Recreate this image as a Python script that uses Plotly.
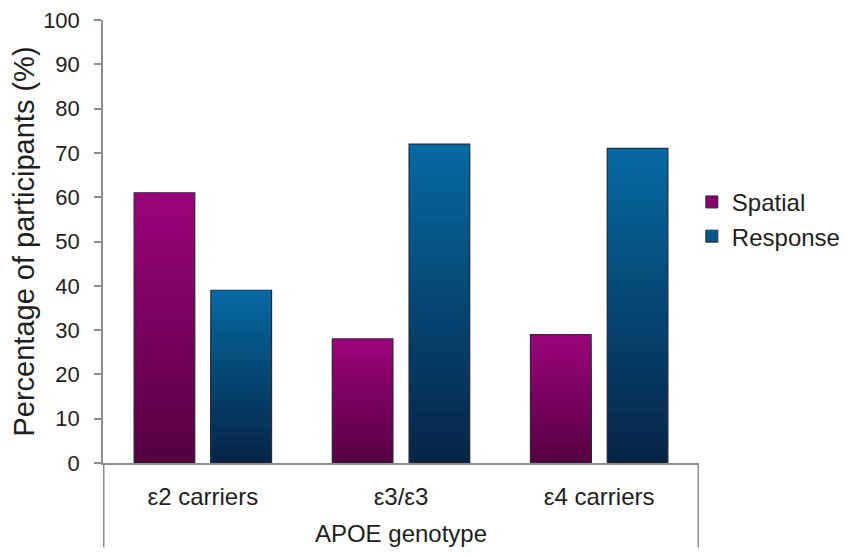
import plotly.graph_objects as go

genotypes = ["ε2 carriers", "ε3/ε3", "ε4 carriers"]
spatial = [61, 28, 29]
response = [39, 72, 71]

# top / bottom colours of the vertical gradient in each bar
series = [
    ("Spatial", spatial, (155, 4, 122), (86, 0, 66)),
    ("Response", response, (6, 106, 162), (6, 36, 70)),
]

N_STEPS = 50


def mix(top, bottom, t):
    # t = 0 bottom, t = 1 top
    return "rgb(%d,%d,%d)" % tuple(round(b + (a - b) * t) for a, b in zip(top, bottom))


fig = go.Figure()

for name, vals, top, bottom in series:
    # gradient: overlapping bars, tallest (lightest) first, shorter darker ones on top
    for k in range(N_STEPS):
        frac = (N_STEPS - k) / N_STEPS
        fig.add_trace(go.Bar(
            x=genotypes,
            y=[v * frac for v in vals],
            offsetgroup=name,
            marker=dict(color=mix(top, bottom, frac - 0.5 / N_STEPS), line=dict(width=0)),
            showlegend=False,
            hoverinfo="skip",
        ))
    # outline
    fig.add_trace(go.Bar(
        x=genotypes, y=vals, offsetgroup=name, name=name,
        marker=dict(color="rgba(0,0,0,0)", line=dict(color="#2b2b3a", width=1.2)),
        showlegend=False,
    ))

# legend entries
for name, vals, top, bottom in series:
    fig.add_trace(go.Bar(
        x=genotypes, y=[None] * len(vals), offsetgroup=name, name=name,
        marker=dict(color=mix(top, bottom, 0.75), line=dict(color="#2b2b3a", width=1)),
    ))

axis_col = "#8c8c8c"

# page body has an 8px margin, so the figure is shifted by 8px
fig.update_layout(
    width=850, height=557,
    margin=dict(l=95, r=159, t=12, b=102),
    paper_bgcolor="white", plot_bgcolor="white",
    barmode="group", bargap=0.225, bargroupgap=0.21,
    font=dict(family="Liberation Sans, Arial", size=22, color="#1e1e1e"),
    legend=dict(x=0.988, y=0.55, xanchor="left", yanchor="middle",
                font=dict(size=24), itemwidth=30, tracegroupgap=0,
                bgcolor="rgba(0,0,0,0)"),
    showlegend=True,
)

fig.update_yaxes(
    range=[0, 100], dtick=10, showgrid=False, zeroline=False, automargin=False,
    showline=True, linecolor=axis_col, linewidth=1.5,
    ticks="outside", ticklen=7, tickcolor=axis_col, tickwidth=1.5,
    ticklabelstandoff=10, ticklabeloverflow="allow", tickfont=dict(size=22),
    title=dict(text="Percentage of participants (%)", font=dict(size=29), standoff=8),
)
fig.update_xaxes(
    showgrid=False, showline=True, linecolor=axis_col, linewidth=1.5, automargin=False,
    ticks="", ticklabelstandoff=11, tickfont=dict(size=24),
    title=dict(text="APOE genotype", font=dict(size=24), standoff=17),
)

# category table dividers below the axis (left and right edges)
for xp in (-0.5, len(genotypes) - 0.5):
    fig.add_shape(type="line", xref="x", yref="paper",
                  x0=xp, x1=xp, y0=0, y1=-0.19, layer="above",
                  line=dict(color=axis_col, width=1.5))

fig.write_html("out.html")
